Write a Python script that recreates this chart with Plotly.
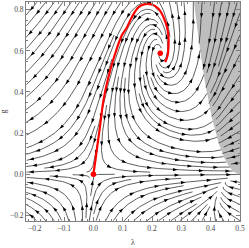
import math
import numpy as np
import plotly.graph_objects as go

# ---------------- data ----------------
x_range = [-0.23, 0.5]
y_range = [-0.228, 0.838]
x_tick_values = [-0.2, -0.1, 0.0, 0.1, 0.2, 0.3, 0.4, 0.5]
y_tick_values = [-0.2, 0.0, 0.2, 0.4, 0.6, 0.8]
x_label = "λ"
y_label = "g"

# RG flow model (Einstein-Hilbert, optimized cutoff) shift constants
c_lambda = 5.9
c_eta = 7.1

# fixed points (Gaussian, non-Gaussian)
fixed_point_lambda = [0.0, 0.228]
fixed_point_g = [0.0, 0.589]

# separatrix
separatrix_lambda = [0.0, 0.007, 0.014, 0.023, 0.034, 0.051, 0.074, 0.097, 0.114,
                     0.131, 0.154, 0.176, 0.199, 0.222, 0.239, 0.251, 0.256, 0.256,
                     0.253, 0.245]
separatrix_g = [0.0, 0.07, 0.145, 0.237, 0.358, 0.472, 0.586, 0.676, 0.714,
                0.764, 0.813, 0.828, 0.826, 0.805, 0.764, 0.715, 0.667, 0.618,
                0.577, 0.545]

# ---------------- geometry ----------------
W, H = 249, 248
ML, MR, MT, MB = 26, 9, 2, 27
PW = W - ML - MR
PH = H - MT - MB
sx = PW / (x_range[1] - x_range[0])
sy = PH / (y_range[1] - y_range[0])


def beta(lam, g):
    u = 1.0 / (1.0 - 2.0 * lam)
    B1 = (20 * u - 36 * u * u - 28 + c_eta) / (12 * math.pi)
    B2 = (12 * u * u - 10 * u) / (24 * math.pi)
    den = 1.0 - g * B2
    if abs(den) < 1e-12:
        den = math.copysign(1e-12, den if den != 0 else 1.0)
    eta = g * B1 / den
    bl = -(2 - eta) * lam + g / (8 * math.pi) * (20 * u - 16 + c_lambda - 10.0 / 3.0 * eta * u)
    bg = (2 + eta) * g
    return bl, bg


def direction(X, Y):
    lam = x_range[0] + X / sx
    g = y_range[0] + Y / sy
    lam = min(lam, 0.4995)
    bl, bg = beta(lam, g)
    vx, vy = -bl * sx, -bg * sy
    n = math.hypot(vx, vy)
    if not math.isfinite(n) or n < 1e-12:
        return None
    return vx / n, vy / n


DSEP = 7.0
DTEST = 3.3
STEP = 0.7
CELL = DSEP
LAG = int(2.2 * DSEP / STEP)
grid = {}


def cell_of(X, Y):
    return (int(X // CELL), int(Y // CELL))


def far_enough(X, Y, d):
    cx, cy = cell_of(X, Y)
    d2 = d * d
    for i in (cx - 1, cx, cx + 1):
        for j in (cy - 1, cy, cy + 1):
            for (px, py) in grid.get((i, j), ()):
                if (px - X) ** 2 + (py - Y) ** 2 < d2:
                    return False
    return True


def self_ok(X, Y, k, own, extra):
    cx, cy = cell_of(X, Y)
    d2 = DTEST * DTEST
    for i in (cx - 1, cx, cx + 1):
        for j in (cy - 1, cy, cy + 1):
            for (px, py, idx) in own.get((i, j), ()):
                if k - idx > LAG and (px - X) ** 2 + (py - Y) ** 2 < d2:
                    return False
            for (px, py, idx) in extra.get((i, j), ()):
                if k + idx > LAG and (px - X) ** 2 + (py - Y) ** 2 < d2:
                    return False
    return True


def integrate(X0, Y0, sign, extra):
    pts = []
    own = {}
    X, Y = X0, Y0
    prev = None
    for k in range(4000):
        v1 = direction(X, Y)
        if v1 is None:
            break
        vx, vy = v1[0] * sign, v1[1] * sign
        if prev is not None and vx * prev[0] + vy * prev[1] < 0.6:
            break
        v2 = direction(X + 0.5 * STEP * vx, Y + 0.5 * STEP * vy)
        if v2 is None:
            break
        wx, wy = v2[0] * sign, v2[1] * sign
        if vx * wx + vy * wy < 0.6:
            break
        nX, nY = X + STEP * wx, Y + STEP * wy
        if not (0 <= nX <= PW and 0 <= nY <= PH):
            break
        if not far_enough(nX, nY, DTEST):
            break
        if not self_ok(nX, nY, k, own, extra):
            break
        pts.append((nX, nY))
        own.setdefault(cell_of(nX, nY), []).append((nX, nY, k))
        X, Y = nX, nY
        prev = (wx, wy)
    return pts, own


lines = []


def make_line(X, Y):
    fwd, own_f = integrate(X, Y, 1.0, {})
    bwd, _ = integrate(X, Y, -1.0, own_f)
    line = list(reversed(bwd)) + [(X, Y)] + fwd
    if len(line) * STEP < 9:
        return None
    return line


def commit(line):
    for (px, py) in line:
        grid.setdefault(cell_of(px, py), []).append((px, py))


def try_seed(X, Y, queue):
    if not (1 < X < PW - 1 and 1 < Y < PH - 1):
        return
    if not far_enough(X, Y, DSEP * 0.97):
        return
    line = make_line(X, Y)
    if line is None:
        return
    commit(line)
    lines.append(line)
    queue.append(line)


def grow(queue):
    while queue:
        line = queue.pop(0)
        for i in range(1, len(line) - 1, 3):
            ax, ay = line[i - 1]
            bx, by = line[i + 1]
            tx, ty = bx - ax, by - ay
            n = math.hypot(tx, ty)
            if n == 0:
                continue
            nx, ny = -ty / n, tx / n
            px, py = line[i]
            try_seed(px + DSEP * nx, py + DSEP * ny, queue)
            try_seed(px - DSEP * nx, py - DSEP * ny, queue)


seed_step = DSEP * 1.5
for gy in np.arange(seed_step / 2, PH, seed_step):
    for gx in np.arange(seed_step / 2, PW, seed_step):
        q = []
        try_seed(float(gx), float(gy), q)
        grow(q)


def to_data(X, Y):
    return x_range[0] + X / sx, y_range[0] + Y / sy


# streamline polyline trace
lx, ly = [], []
for line in lines:
    for (px, py) in line[::2] + [line[-1]]:
        a, b = to_data(px, py)
        lx.append(a)
        ly.append(b)
    lx.append(None)
    ly.append(None)

# arrowheads
ARROW_SP = 26.0
AL, AW = 4.6, 3.2
axs, ays = [], []
for line in lines:
    cum = [0.0]
    for i in range(1, len(line)):
        cum.append(cum[-1] + math.hypot(line[i][0] - line[i - 1][0], line[i][1] - line[i - 1][1]))
    L = cum[-1]
    if L < ARROW_SP:
        positions = [L / 2]
    else:
        positions = list(np.arange(ARROW_SP / 2, L - 3, ARROW_SP))
    j = 0
    for s in positions:
        while j < len(cum) - 1 and cum[j] < s:
            j += 1
        i0 = max(j - 2, 0)
        i1 = min(j + 2, len(line) - 1)
        tx = line[i1][0] - line[i0][0]
        ty = line[i1][1] - line[i0][1]
        n = math.hypot(tx, ty)
        if n == 0:
            continue
        tx, ty = tx / n, ty / n
        nx, ny = -ty, tx
        cx, cy = line[j]
        tip = (cx + tx * AL * 0.5, cy + ty * AL * 0.5)
        b1 = (cx - tx * AL * 0.5 + nx * AW * 0.5, cy - ty * AL * 0.5 + ny * AW * 0.5)
        b2 = (cx - tx * AL * 0.5 - nx * AW * 0.5, cy - ty * AL * 0.5 - ny * AW * 0.5)
        for p in (tip, b1, b2, tip):
            a, b = to_data(*p)
            axs.append(a)
            ays.append(b)
        axs.append(None)
        ays.append(None)

# singular region g*B2(lambda) >= 1
lam_s = np.linspace(0.30, 0.4999, 500)
u_s = 1.0 / (1.0 - 2.0 * lam_s)
g_s = 24 * math.pi / (12 * u_s ** 2 - 10 * u_s)
keep = g_s <= y_range[1]
reg_x = [float(lam_s[keep][0])] + list(lam_s[keep]) + [x_range[1], x_range[1]]
reg_y = [y_range[1]] + list(g_s[keep]) + [0.0, y_range[1]]

fig = go.Figure()
fig.add_trace(go.Scatter(x=reg_x, y=reg_y, mode="lines", fill="toself",
                         fillcolor="rgb(190,190,190)", line=dict(width=0),
                         hoverinfo="skip", showlegend=False))
fig.add_trace(go.Scatter(x=lx, y=ly, mode="lines", line=dict(color="#2a2a2a", width=0.75),
                         hoverinfo="skip", showlegend=False))
fig.add_trace(go.Scatter(x=axs, y=ays, mode="lines", fill="toself", fillcolor="black",
                         line=dict(width=0, color="black"), hoverinfo="skip", showlegend=False))
fig.add_trace(go.Scatter(x=separatrix_lambda, y=separatrix_g, mode="lines",
                         line=dict(color="red", width=2.2, shape="spline"), showlegend=False))
fig.add_trace(go.Scatter(x=fixed_point_lambda, y=fixed_point_g, mode="markers",
                         marker=dict(color="red", size=5.5), showlegend=False))

axis_common = dict(showline=True, linecolor="#808080", linewidth=0.8, mirror="allticks",
                   ticks="inside", ticklen=4, tickwidth=0.7, tickcolor="#808080",
                   showgrid=False, zeroline=False, tickformat=".1f",
                   tickfont=dict(family="Liberation Serif", size=7.5, color="#444"))
fig.update_xaxes(range=x_range, tickvals=x_tick_values,
                 minor=dict(dtick=0.02, tick0=0, ticks="inside", ticklen=2, tickcolor="#808080"),
                 **axis_common)
fig.update_yaxes(range=y_range, tickvals=y_tick_values,
                 minor=dict(dtick=0.05, tick0=0, ticks="inside", ticklen=2, tickcolor="#808080"),
                 **axis_common)

fig.add_annotation(text=x_label, x=0.5, y=0, xref="paper", yref="paper", yshift=-21,
                   yanchor="middle", showarrow=False,
                   font=dict(family="Liberation Serif", size=8, color="#444"))
fig.add_annotation(text=y_label, x=0, y=0.5, xref="paper", yref="paper", xshift=-23,
                   xanchor="center", textangle=-90, showarrow=False,
                   font=dict(family="Liberation Serif", size=8, color="#444"))

fig.update_layout(width=W, height=H, margin=dict(l=ML, r=MR, t=MT, b=MB),
                  paper_bgcolor="white", plot_bgcolor="white", hovermode=False)
fig.write_html("out.html", config={"displayModeBar": False},
               post_script="document.body.style.margin='0px';document.body.style.padding='0px';")
